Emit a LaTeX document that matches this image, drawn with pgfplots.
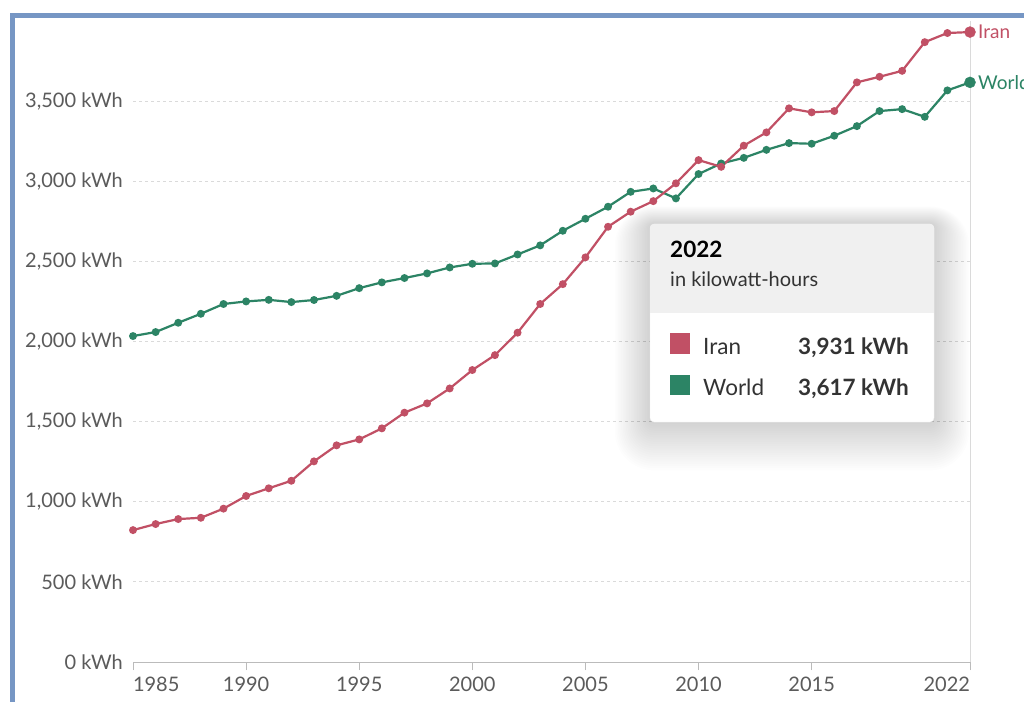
\documentclass[border=0pt]{standalone}
\usepackage{fontspec}
\setmainfont{Lato}
\usepackage{pgfplots}
\pgfplotsset{compat=1.18}
\definecolor{iran}{HTML}{C15065}
\definecolor{world}{HTML}{2C8465}
\definecolor{tickc}{HTML}{5B5B5B}
\definecolor{gridc}{HTML}{DADADA}
\definecolor{axisc}{HTML}{BBBBBB}
\definecolor{borderc}{HTML}{7696C4}
\definecolor{headc}{HTML}{F0F0F0}
\begin{document}
\begin{tikzpicture}[x=1pt,y=1pt]
\useasboundingbox (0,0) rectangle (1024,702);
\fill[white] (0,0) rectangle (1024,702);
\fill[borderc] (10,0) rectangle (15,689);
\fill[borderc] (10,684) rectangle (1024,689);
\begin{axis}[
  at={(133pt,40pt)}, anchor=south west,
  scale only axis, width=837pt, height=641pt,
  xmin=1985, xmax=2022, ymin=0, ymax=4000,
  axis lines*=left, axis line style={-},
  y axis line style={draw=none},
  x axis line style={axisc, line width=1pt},
  tick align=outside, major tick length=8pt,
  xtick={1985,1990,1995,2000,2005,2010,2015,2022},
  xticklabels={{\makebox[0pt][l]{1985}},1990,1995,2000,2005,2010,2015,{\makebox[0pt][r]{2022}}},
  xtick style={axisc, line width=1pt},
  ytick={0,500,1000,1500,2000,2500,3000,3500},
  yticklabels={{0 kWh},{500 kWh},{1,000 kWh},{1,500 kWh},{2,000 kWh},{2,500 kWh},{3,000 kWh},{3,500 kWh}},
  ytick style={draw=none},
  yticklabel style={anchor=east, inner sep=0pt, xshift=-2pt, text=tickc, font=\fontsize{20}{20}\selectfont},
  xticklabel style={anchor=north, inner sep=0pt, yshift=-7pt, text=tickc, font=\fontsize{20}{20}\selectfont},
  ymajorgrids, grid style={gridc, dash pattern=on 3pt off 3pt, line width=0.8pt},
  clip=false,
]
\draw[gridc, line width=1pt] (axis cs:2022,0) -- (axis cs:2022,4000);
\addplot[world, line width=2.2pt, mark=*, mark size=2.8pt] coordinates {
(1985,2034) (1986,2059) (1987,2117) (1988,2173) (1989,2234) (1990,2250)
(1991,2260) (1992,2246) (1993,2259) (1994,2285) (1995,2333) (1996,2369)
(1997,2396) (1998,2425) (1999,2462) (2000,2485) (2001,2487) (2002,2543)
(2003,2600) (2004,2691) (2005,2766) (2006,2841) (2007,2934) (2008,2955)
(2009,2893) (2010,3045) (2011,3111) (2012,3146) (2013,3196) (2014,3238)
(2015,3234) (2016,3284) (2017,3344) (2018,3438) (2019,3450) (2020,3402)
(2021,3567) (2022,3617)};
\addplot[iran, line width=2.2pt, mark=*, mark size=2.8pt] coordinates {
(1985,823) (1986,861) (1987,892) (1988,900) (1989,957) (1990,1036)
(1991,1084) (1992,1131) (1993,1252) (1994,1352) (1995,1389) (1996,1458)
(1997,1556) (1998,1614) (1999,1707) (2000,1822) (2001,1915) (2002,2055)
(2003,2234) (2004,2358) (2005,2525) (2006,2716) (2007,2810) (2008,2876)
(2009,2987) (2010,3132) (2011,3090) (2012,3222) (2013,3305) (2014,3455)
(2015,3430) (2016,3438) (2017,3617) (2018,3652) (2019,3689) (2020,3868)
(2021,3925) (2022,3931)};
\addplot[world, only marks, mark=*, mark size=5.5pt] coordinates {(2022,3617)};
\addplot[iran, only marks, mark=*, mark size=5.5pt] coordinates {(2022,3931)};
\node[anchor=west, inner sep=0pt, text=iran, font=\fontsize{19}{19}\selectfont, xshift=8pt] at (axis cs:2022,3931) {Iran};
\node[anchor=west, inner sep=0pt, text=world, font=\fontsize{19}{19}\selectfont, xshift=8pt] at (axis cs:2022,3617) {World};
\end{axis}
% tooltip soft shadow
\foreach \i in {1,...,22} {
  \pgfmathsetmacro{\rc}{4+1.6*\i}
  \fill[black, opacity=0.006, rounded corners=\rc pt] (650-1.6*\i,280-2.2*\i) rectangle (934+1.6*\i,478+0.8*\i);
}
\fill[white, rounded corners=4pt] (650,280) rectangle (934,478);
\begin{scope}
\clip[rounded corners=4pt] (650,280) rectangle (934,478);
\fill[headc] (650,389) rectangle (934,478);
\end{scope}
\draw[black!6, rounded corners=4pt] (650,280) rectangle (934,478);
\node[anchor=base west, inner sep=0pt, font=\fontsize{22.5}{22.5}\selectfont\bfseries] at (670,444) {2022};
\node[anchor=base west, inner sep=0pt, text=black!80, font=\fontsize{20}{20}\selectfont] at (670,415) {in kilowatt-hours};
\fill[iran] (670,348) rectangle (690,368.5);
\fill[world] (670,307) rectangle (690,327.5);
\node[anchor=base west, inner sep=0pt, text=black!80, font=\fontsize{22.5}{22.5}\selectfont] at (703,348) {Iran};
\node[anchor=base west, inner sep=0pt, text=black!80, font=\fontsize{22.5}{22.5}\selectfont] at (703,307) {World};
\node[anchor=base east, inner sep=0pt, text=black!80, font=\fontsize{22.5}{22.5}\selectfont\bfseries] at (909,348) {3,931 kWh};
\node[anchor=base east, inner sep=0pt, text=black!80, font=\fontsize{22.5}{22.5}\selectfont\bfseries] at (909,307) {3,617 kWh};
\end{tikzpicture}
\end{document}
